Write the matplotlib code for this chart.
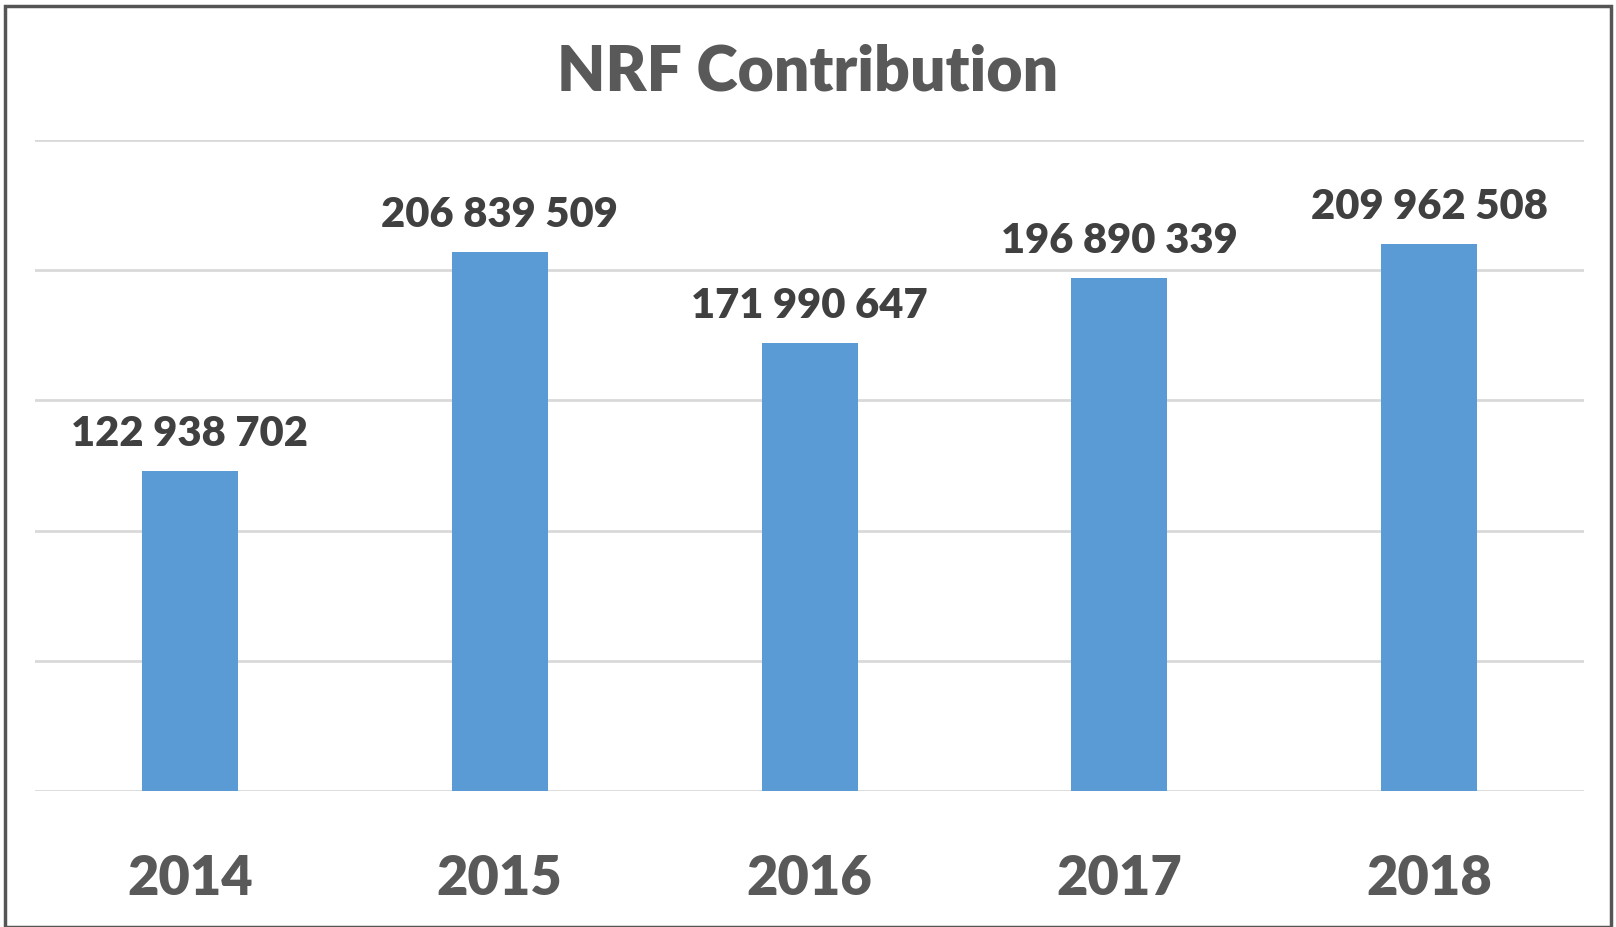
import matplotlib.pyplot as plt
from matplotlib.patches import Rectangle

# Data
years = ["2014", "2015", "2016", "2017", "2018"]
contribution = [122938702, 206839509, 171990647, 196890339, 209962508]

plt.rcParams["font.family"] = ["Lato", "DejaVu Sans"]

fig = plt.figure(figsize=(16.16, 9.27), dpi=100)
ax = fig.add_axes([0.0217, 0.1467, 0.9585, 0.7023])

x = range(len(years))
bars = ax.bar(x, contribution, width=0.31, color="#5B9BD5", zorder=3)

ax.set_xlim(-0.5, len(years) - 0.5)
ax.set_ylim(0, 250e6)
ax.set_yticks([0, 50e6, 100e6, 150e6, 200e6, 250e6])
ax.yaxis.grid(True, color="#D9D9D9", linewidth=2, zorder=0)
ax.tick_params(axis="y", left=False, labelleft=False)
ax.tick_params(axis="x", bottom=False, pad=42)
ax.set_xticks(list(x))
ax.set_xticklabels(years, fontsize=39, fontweight="heavy", color="#595959")
for s in ax.spines.values():
    s.set_visible(False)

# Data labels with space thousands separator
for b, v in zip(bars, contribution):
    label = f"{v:,}".replace(",", " ")
    ax.annotate(label, (b.get_x() + b.get_width() / 2, v),
                xytext=(0, 13), textcoords="offset points",
                ha="center", va="bottom", fontsize=30, fontweight="heavy",
                color="#404040")

fig.text(0.5, 0.922, "NRF Contribution", ha="center", va="center",
         fontsize=45, fontweight="heavy", color="#595959")

# Chart border
fig.patches.append(Rectangle((0.003, 0.0), 0.994, 0.994, transform=fig.transFigure,
                             fill=False, edgecolor="#555555", linewidth=2.5))

fig.savefig("out.png", dpi=100)
